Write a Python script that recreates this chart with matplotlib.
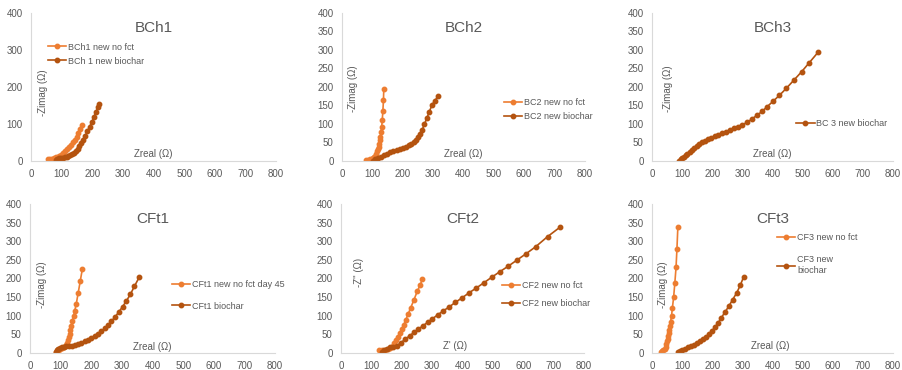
import matplotlib
matplotlib.use('Agg')
from matplotlib import pyplot

ORANGE = '#ED7D31'
BROWN = '#B4530F'
GREY = '#595959'

# BCh1
bch1_nofct_x = [57, 62, 68, 75, 82, 90, 97, 104, 111, 118, 125, 131, 137, 143, 149, 155, 160, 165]
bch1_nofct_y = [4, 5, 6, 8, 10, 13, 17, 21, 26, 31, 37, 43, 50, 57, 66, 76, 86, 97]
bch1_bio_x = [80, 86, 92, 98, 104, 110, 116, 122, 128, 134, 140, 146, 152, 158, 164, 170, 177, 184,
              191, 198, 205, 212, 218, 222]
bch1_bio_y = [2, 5, 7, 8, 9, 10, 11, 13, 15, 18, 22, 27, 33, 40, 48, 57, 68, 80, 92, 104, 118, 132,
              145, 155]

# BCh2
bch2_nofct_x = [80, 86, 92, 98, 103, 107, 111, 114, 117, 119, 121, 123, 125, 127, 129, 131, 133,
                135, 137, 138]
bch2_nofct_y = [2, 3, 5, 6, 8, 11, 15, 20, 26, 32, 39, 47, 56, 66, 77, 91, 110, 135, 164, 195]
bch2_bio_x = [102, 110, 120, 130, 140, 150, 160, 170, 180, 190, 200, 210, 220, 228, 236, 244, 251,
              258, 265, 272, 280, 288, 297, 306, 316]
bch2_bio_y = [1, 6, 9, 12, 15, 19, 23, 27, 30, 33, 36, 39, 42, 46, 51, 57, 64, 73, 85, 100, 116,
              133, 152, 162, 175]

# BCh3
bch3_bio_x = [90, 95, 100, 106, 112, 118, 125, 132, 140, 148, 157, 166, 176, 186, 196, 208, 220,
              232, 245, 258, 272, 286, 300, 316, 333, 350, 366, 383, 402, 423, 446, 471, 497,
              523, 552]
bch3_bio_y = [1, 5, 8, 11, 15, 19, 24, 29, 35, 40, 45, 50, 54, 58, 63, 67, 71, 75, 79, 83, 88, 93,
              98, 104, 114, 124, 134, 147, 161, 177, 196, 218, 241, 266, 294]

# CFt1
cft1_nofct_x = [85, 92, 99, 106, 112, 117, 120, 123, 126, 129, 132, 135, 138, 142, 146, 151, 157,
                164, 171]
cft1_nofct_y = [2, 6, 10, 13, 17, 22, 28, 35, 43, 52, 62, 73, 85, 98, 113, 132, 160, 193, 226]
cft1_bio_x = [85, 88, 92, 97, 103, 110, 118, 127, 137, 147, 157, 167, 178, 189, 200, 211, 222,
              233, 244, 255, 266, 278, 290, 302, 315, 328, 341, 357]
cft1_bio_y = [2, 7, 11, 14, 16, 17, 18, 18, 19, 21, 24, 27, 31, 35, 40, 45, 51, 58, 66, 75, 85,
              97, 110, 124, 140, 158, 179, 204]

# CFt2
cft2_nofct_x = [125, 135, 145, 155, 163, 170, 176, 182, 188, 194, 200, 206, 213, 221, 230, 240,
                251, 261, 268]
cft2_nofct_y = [8, 9, 9, 10, 14, 20, 27, 35, 44, 53, 63, 74, 88, 104, 122, 142, 165, 183, 198]
cft2_bio_x = [135, 142, 150, 160, 172, 185, 198, 212, 226, 240, 255, 270, 285, 300, 318, 337,
              357, 377, 399, 421, 445, 470, 496, 523, 551, 579, 609, 641, 680, 722]
cft2_bio_y = [3, 8, 12, 15, 17, 20, 28, 37, 46, 55, 64, 73, 82, 91, 102, 113, 124, 136, 148, 161,
              174, 188, 203, 218, 233, 249, 266, 285, 312, 338]

# CFt3
cft3_nofct_x = [30, 34, 38, 42, 45, 48, 50, 52, 54, 56, 58, 60, 62, 65, 68, 72, 76, 80, 83, 86]
cft3_nofct_y = [2, 4, 7, 11, 17, 24, 31, 38, 45, 53, 62, 72, 84, 100, 122, 150, 188, 230, 280, 338]
cft3_bio_x = [85, 92, 100, 110, 120, 130, 140, 150, 160, 170, 180, 190, 200, 210, 220, 230, 242,
              255, 268, 282, 294, 305]
cft3_bio_y = [3, 6, 9, 12, 15, 18, 22, 26, 31, 37, 44, 51, 60, 70, 81, 94, 109, 125, 143, 162,
              183, 205]


def draw_panel(fig, rect, title, series, yticks, xlabel, ylabel, xl_pos, yl_pos,
               leg_anchor, leg_spacing):
    ax = fig.add_axes(rect)
    for x, y, color, label in series:
        ax.plot(x, y, 'o-', color=color, label=label, markersize=3.2, linewidth=1.2)
    ax.set_xlim(0, 800)
    ax.set_ylim(0, 400)
    ax.set_xticks(range(0, 801, 100))
    ax.set_yticks(yticks)
    for side in ['top', 'right']:
        ax.spines[side].set_visible(False)
    for side in ['left', 'bottom']:
        ax.spines[side].set_color('#D9D9D9')
        ax.spines[side].set_linewidth(0.8)
    ax.tick_params(length=0, labelsize=7, labelcolor=GREY, pad=6)
    ax.set_title(title, fontsize=11, color=GREY, y=0.815)
    ax.text(xl_pos[0], xl_pos[1], xlabel, transform=ax.transAxes, fontsize=7,
            color=GREY, ha='center', va='center')
    ax.text(yl_pos[0], yl_pos[1], ylabel, transform=ax.transAxes, fontsize=7,
            color=GREY, ha='center', va='center', rotation=90)
    ax.legend(loc='upper left', bbox_to_anchor=leg_anchor, frameon=False, fontsize=6.5,
              handlelength=2.0, handletextpad=0.2, borderpad=0, borderaxespad=0,
              labelspacing=leg_spacing, labelcolor=GREY)
    ax.patch.set_alpha(0)
    return ax


def main():
    pyplot.rcParams['font.family'] = ['Liberation Sans', 'DejaVu Sans']
    fig = pyplot.figure(figsize=(9.02, 3.70), dpi=100)
    y50 = range(0, 401, 50)

    draw_panel(fig, [0.0344, 0.565, 0.2716, 0.4], 'BCh1',
               [(bch1_nofct_x, bch1_nofct_y, ORANGE, 'BCh1 new no fct'),
                (bch1_bio_x, bch1_bio_y, BROWN, 'BCh 1 new biochar')],
               range(0, 401, 100), 'Zreal (\u03a9)', '-Zimag (\u03a9)',
               (0.50, 0.05), (0.05, 0.46), (0.069, 0.80), 0.55)
    draw_panel(fig, [0.379, 0.565, 0.2694, 0.4], 'BCh2',
               [(bch2_nofct_x, bch2_nofct_y, ORANGE, 'BC2 new no fct'),
                (bch2_bio_x, bch2_bio_y, BROWN, 'BC2 new biochar')],
               y50, 'Zreal (\u03a9)', '-Zimag (\u03a9)',
               (0.50, 0.05), (0.045, 0.49), (0.667, 0.426), 0.55)
    draw_panel(fig, [0.7228, 0.565, 0.267, 0.4], 'BCh3',
               [(bch3_bio_x, bch3_bio_y, BROWN, 'BC 3 new biochar')],
               y50, 'Zreal (\u03a9)', '-Zimag (\u03a9)',
               (0.50, 0.05), (0.065, 0.49), (0.60, 0.284), 0.55)
    draw_panel(fig, [0.0333, 0.046, 0.2716, 0.403], 'CFt1',
               [(cft1_nofct_x, cft1_nofct_y, ORANGE, 'CFt1 new no fct day 45'),
                (cft1_bio_x, cft1_bio_y, BROWN, 'CFt1 biochar')],
               y50, 'Zreal (\u03a9)', '-Zimag (\u03a9)',
               (0.50, 0.04), (0.05, 0.46), (0.58, 0.49), 1.4)
    draw_panel(fig, [0.378, 0.046, 0.2694, 0.403], 'CFt2',
               [(cft2_nofct_x, cft2_nofct_y, ORANGE, 'CF2 new no fct'),
                (cft2_bio_x, cft2_bio_y, BROWN, 'CF2 new biochar')],
               y50, "Z' (\u03a9)", "-Z'' (\u03a9)",
               (0.47, 0.05), (0.075, 0.54), (0.663, 0.483), 1.05)
    draw_panel(fig, [0.7228, 0.046, 0.267, 0.403], 'CFt3',
               [(cft3_nofct_x, cft3_nofct_y, ORANGE, 'CF3 new no fct'),
                (cft3_bio_x, cft3_bio_y, BROWN, 'CF3 new\nbiochar')],
               y50, 'Zreal (\u03a9)', '-Zimag (\u03a9)',
               (0.49, 0.05), (0.045, 0.46), (0.52, 0.805), 1.5)

    fig.savefig('out.png', dpi=100)


if __name__ == '__main__':
    main()
